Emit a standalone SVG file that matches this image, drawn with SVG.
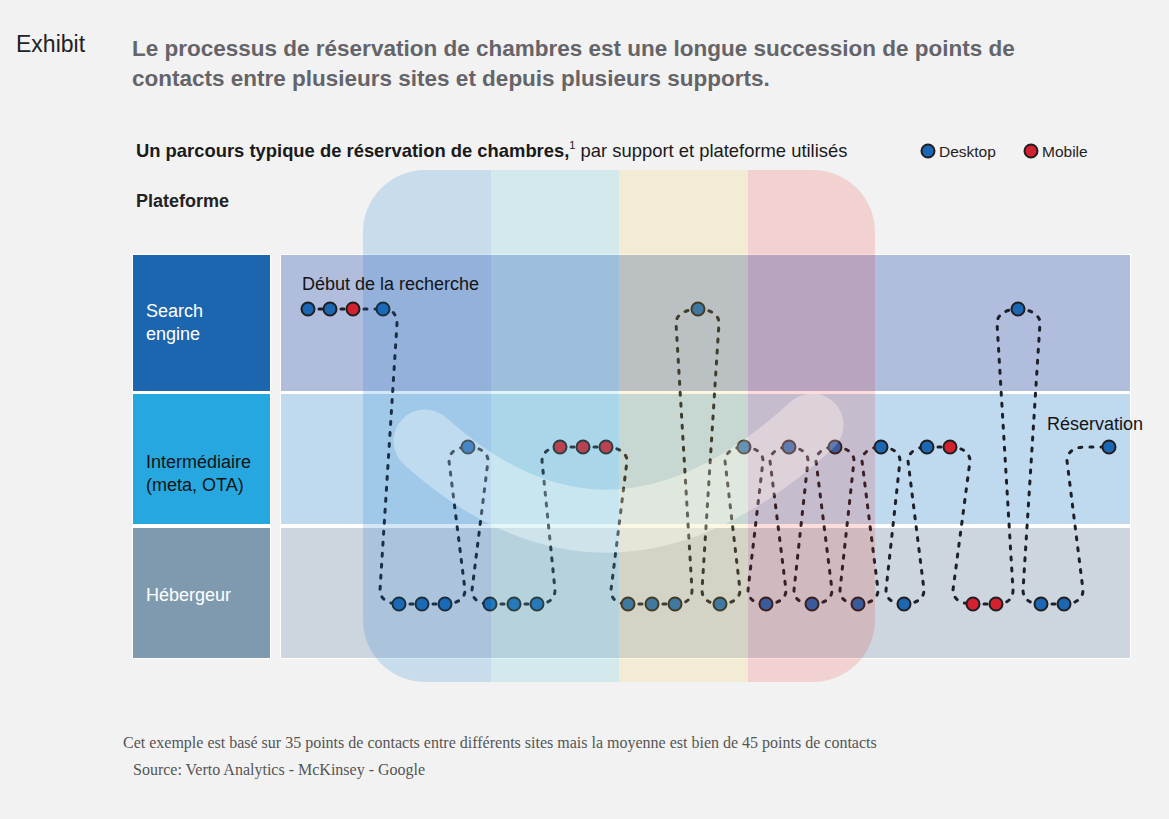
<svg xmlns="http://www.w3.org/2000/svg" width="1169" height="819" viewBox="0 0 1169 819">
<defs>
<style>
.sans{font-family:"Liberation Sans",Arial,sans-serif}
.title{font-family:"Liberation Sans",Arial,sans-serif;font-weight:bold;font-size:22.5px;fill:#646469}
.lbl{font-family:"Liberation Sans",Arial,sans-serif;font-size:18px}
.w{fill:#fff}
.k{fill:#141414}
.con{fill:none;stroke:#1e2028;stroke-width:3;stroke-dasharray:3 8;stroke-linecap:round}
.d{stroke:#1f1f1f;stroke-width:2}
.b{fill:#1b67b3}
.r{fill:#d42130}
.foot{font-family:"Liberation Serif","Times New Roman",serif;font-size:16px;fill:#555}
.sw{fill:none;stroke:#fff;stroke-width:63;stroke-linecap:round}
</style>
<clipPath id="ov"><rect x="363" y="170" width="512" height="512" rx="62"/></clipPath>
</defs>
<rect x="0" y="0" width="1169" height="819" fill="#f2f2f2"/>

<!-- headings -->
<text x="16" y="52" class="sans" font-size="23" fill="#222">Exhibit</text>
<text x="132" y="56" class="title">Le processus de réservation de chambres est une longue succession de points de</text>
<text x="132" y="86" class="title">contacts entre plusieurs sites et depuis plusieurs supports.</text>
<text x="136" y="157" class="sans" font-size="18.4" fill="#1a1a1a"><tspan font-weight="bold">Un parcours typique de réservation de chambres,</tspan><tspan font-size="11" dy="-8">1</tspan><tspan dy="8"> par support et plateforme utilisés</tspan></text>
<text x="136" y="207" class="sans" font-size="18" font-weight="bold" fill="#222">Plateforme</text>

<!-- legend -->
<g id="legend">
<circle cx="928" cy="151" r="6.5" class="d b"/>
<text x="939" y="157" class="sans" font-size="15.5" fill="#222">Desktop</text>
<circle cx="1031" cy="151" r="6.5" class="d r"/>
<text x="1042" y="157" class="sans" font-size="15.5" fill="#222">Mobile</text>
</g>

<!-- platform labels -->
<rect x="132" y="254" width="139" height="405" fill="#fff"/>
<g id="lab-search"><rect x="133" y="255" width="137" height="136" fill="#1c66b0"/>
<text x="146" y="317" class="lbl w">Search</text><text x="146" y="340" class="lbl w">engine</text></g>
<g id="lab-inter"><rect x="133" y="394" width="137" height="130" fill="#27a7df"/>
<text x="146" y="468" class="lbl k">Intermédiaire</text><text x="146" y="491" class="lbl k">(meta, OTA)</text></g>
<g id="lab-heb"><rect x="133" y="528" width="137" height="130" fill="#7f9aae"/>
<text x="146" y="601" class="lbl w">Hébergeur</text></g>

<!-- rows -->
<rect x="280" y="254" width="851" height="405" fill="#fff"/>
<rect x="281" y="255" width="849" height="136" fill="#b0bddd"/>
<rect x="281" y="394" width="849" height="130" fill="#bfdaee"/>
<rect x="281" y="528" width="849" height="130" fill="#cdd5df"/>

<!-- light swoosh (under layer) -->
<path d="M425,441 Q611.5,609 812,425" class="sw" stroke-opacity="0.32"/>

<!-- connectors -->
<g id="connectors" class="con">
<path d="M308,309 L330,309"/>
<path d="M330,309 L353,309"/>
<path d="M353,309 L383,309"/>
<path d="M383,309 C392,309 397,314 397,324 L380,590 C380,599 388,604 399,604"/>
<path d="M399,604 L422,604"/>
<path d="M422,604 L445,604"/>
<path d="M445,604 C455,604 465,600 465,590 L449,461 C449,452 457,447 468,447"/>
<path d="M468,447 C479,447 488,452 488,461 L472,590 C472,600 480,604 490,604"/>
<path d="M490,604 L514,604"/>
<path d="M514,604 L537,604"/>
<path d="M537,604 C547,604 555,600 555,590 L542,461 C542,452 550,447 560,447"/>
<path d="M560,447 L583,447"/>
<path d="M583,447 L606,447"/>
<path d="M606,447 C617,447 627,452 627,461 L611,590 C611,600 618,604 628,604"/>
<path d="M628,604 L652,604"/>
<path d="M652,604 L675,604"/>
<path d="M675,604 C685,604 692,600 692,590 L676,323 C676,314 687,309 698,309"/>
<path d="M698,309 C709,309 719,314 719,323 L702,590 C702,600 710,604 720,604"/>
<path d="M720,604 C730,604 740,600 740,590 L725,461 C725,452 734,447 744,447"/>
<path d="M744,447 C754,447 763,452 763,461 L748,590 C748,600 756,604 766,604"/>
<path d="M766,604 C776,604 786,600 786,590 L770,461 C770,452 779,447 789,447"/>
<path d="M789,447 C799,447 808,452 808,461 L794,590 C794,600 802,604 812,604"/>
<path d="M812,604 C822,604 832,600 832,590 L816,461 C816,452 825,447 835,447"/>
<path d="M835,447 C845,447 854,452 854,461 L840,590 C840,600 848,604 858,604"/>
<path d="M858,604 C868,604 878,600 878,590 L862,461 C862,452 871,447 881,447"/>
<path d="M881,447 C891,447 900,452 900,461 L886,590 C886,600 894,604 904,604"/>
<path d="M904,604 C914,604 924,600 924,590 L908,461 C908,452 917,447 927,447"/>
<path d="M927,447 L950,447"/>
<path d="M950,447 C961,447 970,452 970,461 L953,590 C953,600 962,604 973,604"/>
<path d="M973,604 L996,604"/>
<path d="M996,604 C1006,604 1013,600 1013,590 L997,323 C997,314 1007,309 1018,309"/>
<path d="M1018,309 C1029,309 1040,314 1040,323 L1023,590 C1023,600 1031,604 1041,604"/>
<path d="M1041,604 L1064,604"/>
<path d="M1064,604 C1074,604 1083,600 1083,590 L1067,461 C1067,452 1074,447 1085,447 L1109,447"/>
</g>

<!-- touch points -->
<g id="nodes" class="d">
<g id="p01"><circle cx="308" cy="309" r="6.5" class="b"/></g>
<g id="p02"><circle cx="330" cy="309" r="6.5" class="b"/></g>
<g id="p03"><circle cx="353" cy="309" r="6.5" class="r"/></g>
<g id="p04"><circle cx="383" cy="309" r="6.5" class="b"/></g>
<g id="p05"><circle cx="399" cy="604" r="6.5" class="b"/></g>
<g id="p06"><circle cx="422" cy="604" r="6.5" class="b"/></g>
<g id="p07"><circle cx="445" cy="604" r="6.5" class="b"/></g>
<g id="p08"><circle cx="468" cy="447" r="6.5" class="b"/></g>
<g id="p09"><circle cx="490" cy="604" r="6.5" class="b"/></g>
<g id="p10"><circle cx="514" cy="604" r="6.5" class="b"/></g>
<g id="p11"><circle cx="537" cy="604" r="6.5" class="b"/></g>
<g id="p12"><circle cx="560" cy="447" r="6.5" class="r"/></g>
<g id="p13"><circle cx="583" cy="447" r="6.5" class="r"/></g>
<g id="p14"><circle cx="606" cy="447" r="6.5" class="r"/></g>
<g id="p15"><circle cx="628" cy="604" r="6.5" class="b"/></g>
<g id="p16"><circle cx="652" cy="604" r="6.5" class="b"/></g>
<g id="p17"><circle cx="675" cy="604" r="6.5" class="b"/></g>
<g id="p18"><circle cx="698" cy="309" r="6.5" class="b"/></g>
<g id="p19"><circle cx="720" cy="604" r="6.5" class="b"/></g>
<g id="p20"><circle cx="744" cy="447" r="6.5" class="b"/></g>
<g id="p21"><circle cx="766" cy="604" r="6.5" class="b"/></g>
<g id="p22"><circle cx="789" cy="447" r="6.5" class="b"/></g>
<g id="p23"><circle cx="812" cy="604" r="6.5" class="b"/></g>
<g id="p24"><circle cx="835" cy="447" r="6.5" class="b"/></g>
<g id="p25"><circle cx="858" cy="604" r="6.5" class="b"/></g>
<g id="p26"><circle cx="881" cy="447" r="6.5" class="b"/></g>
<g id="p27"><circle cx="904" cy="604" r="6.5" class="b"/></g>
<g id="p28"><circle cx="927" cy="447" r="6.5" class="b"/></g>
<g id="p29"><circle cx="950" cy="447" r="6.5" class="r"/></g>
<g id="p30"><circle cx="973" cy="604" r="6.5" class="r"/></g>
<g id="p31"><circle cx="996" cy="604" r="6.5" class="r"/></g>
<g id="p32"><circle cx="1018" cy="309" r="6.5" class="b"/></g>
<g id="p33"><circle cx="1041" cy="604" r="6.5" class="b"/></g>
<g id="p34"><circle cx="1064" cy="604" r="6.5" class="b"/></g>
<g id="p35"><circle cx="1109" cy="447" r="6.5" class="b"/></g>
</g>

<!-- phase overlay columns -->
<g id="phases" clip-path="url(#ov)">
<rect x="363" y="170" width="128" height="512" fill="rgb(14,120,209)" fill-opacity="0.18"/>
<rect x="491" y="170" width="128" height="512" fill="rgb(92,202,217)" fill-opacity="0.2"/>
<rect x="619" y="170" width="129" height="512" fill="rgb(242,206,71)" fill-opacity="0.17"/>
<rect x="748" y="170" width="127" height="512" fill="rgb(235,29,22)" fill-opacity="0.15"/>
</g>

<!-- light swoosh (upper layer) -->
<path id="swoosh" d="M425,441 Q611.5,609 812,425" class="sw" stroke-opacity="0.2"/>

<text x="302" y="290" class="lbl k">Début de la recherche</text>
<text x="1047" y="430" class="lbl k">Réservation</text>

<!-- footer -->
<text x="123" y="748" class="foot">Cet exemple est basé sur 35 points de contacts entre différents sites mais la moyenne est bien de 45 points de contacts</text>
<text x="133" y="775" class="foot">Source: Verto Analytics - McKinsey - Google</text>
</svg>
